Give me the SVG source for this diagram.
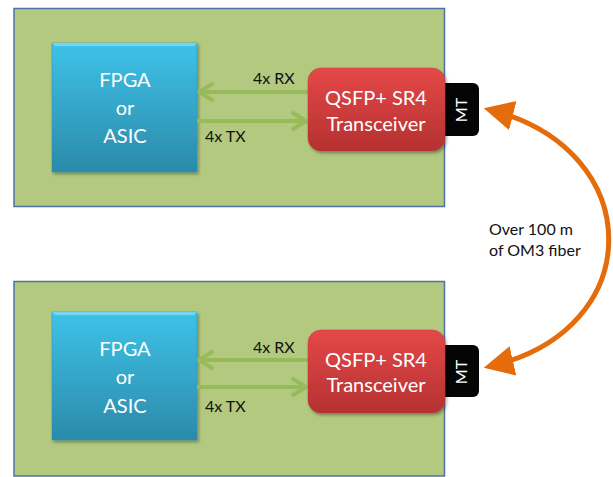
<svg xmlns="http://www.w3.org/2000/svg" width="613" height="477" viewBox="0 0 613 477">
<defs>
<style>
.board{fill:#b3c97f;stroke:#4f72a6;stroke-width:1.5}
.chip{fill:url(#blue);stroke:#2c8fb0;stroke-width:0.5}
.xcvr{fill:url(#red);stroke:#b83a3a;stroke-width:0.5}
.mt{fill:#050505}
.wt{font-family:Lato,"Open Sans",sans-serif;fill:#fff;text-anchor:middle}
.bt{font-family:Lato,"Open Sans",sans-serif;fill:#111;font-size:16px}
.lane{stroke:#97bb5a;stroke-width:4;fill:none}
.head{stroke:#97bb5a;stroke-width:4;fill:none;stroke-linecap:round;stroke-linejoin:round}
.fiber{stroke:#e46c0a;stroke-width:5;fill:none}
</style>
<linearGradient id="blue" x1="0" y1="0" x2="0" y2="1">
<stop offset="0" stop-color="#3ec2e8"/>
<stop offset="1" stop-color="#2b8aaa"/>
</linearGradient>
<linearGradient id="red" x1="0" y1="0" x2="0" y2="1">
<stop offset="0" stop-color="#e54848"/>
<stop offset="1" stop-color="#b53131"/>
</linearGradient>
<filter id="sh" x="-10%" y="-10%" width="130%" height="130%">
<feDropShadow dx="1.5" dy="2" stdDeviation="1.5" flood-color="#000" flood-opacity="0.35"/>
</filter>
<marker id="oh" markerWidth="6" markerHeight="6" refX="4.5" refY="3" orient="auto-start-reverse" markerUnits="strokeWidth" viewBox="0 0 6 6">
<path d="M0,0 L6,3 L0,6 Z" fill="#e46c0a"/>
</marker>
</defs>

<g id="board-top">
<rect class="board" x="14" y="8.5" width="430.5" height="198"/>
</g>
<g id="board-bottom">
<rect class="board" x="14" y="281.5" width="430.5" height="194.5"/>
</g>

<g id="fpga-top">
<rect class="chip" x="52" y="43" width="145" height="129" filter="url(#sh)"/>
<path d="M52,43 H197 L194,46 H55 Z" fill="#7fdcf5" opacity="0.8"/>
<text class="wt" font-size="20" x="125" y="87">FPGA</text>
<text class="wt" font-size="20" x="125" y="115">or</text>
<text class="wt" font-size="20" x="125" y="143">ASIC</text>
</g>
<g id="fpga-bottom">
<rect class="chip" x="52" y="312" width="145" height="128" filter="url(#sh)"/>
<path d="M52,312 H197 L194,315 H55 Z" fill="#7fdcf5" opacity="0.8"/>
<text class="wt" font-size="20" x="125" y="356">FPGA</text>
<text class="wt" font-size="20" x="125" y="384">or</text>
<text class="wt" font-size="20" x="125" y="413">ASIC</text>
</g>

<g id="connectors">
<line class="lane" x1="308" y1="92" x2="199" y2="92"/>
<polyline class="head" points="212,84 199,92 212,100"/>
<line class="lane" x1="197" y1="121" x2="306" y2="121"/>
<polyline class="head" points="293,113 306,121 293,129"/>
<line class="lane" x1="308" y1="360" x2="199" y2="360"/>
<polyline class="head" points="212,352 199,360 212,368"/>
<line class="lane" x1="197" y1="387" x2="306" y2="387"/>
<polyline class="head" points="293,379 306,387 293,395"/>
<path class="fiber" d="M491,110 C648,150 648,330 491,366" marker-start="url(#oh)" marker-end="url(#oh)"/>
</g>

<g id="labels">
<text class="bt" x="253" y="84">4x RX</text>
<text class="bt" x="205" y="142">4x TX</text>
<text class="bt" x="253" y="353">4x RX</text>
<text class="bt" x="205" y="412">4x TX</text>
<text class="bt" x="489" y="235">Over 100 m</text>
<text class="bt" x="489" y="256">of OM3 fiber</text>
</g>

<g id="mt-top">
<rect class="mt" x="438" y="83" width="41" height="53" rx="6"/>
<text class="wt" font-size="16" transform="translate(467,110) rotate(-90)">MT</text>
</g>
<g id="mt-bottom">
<rect class="mt" x="438" y="345" width="41" height="52" rx="6"/>
<text class="wt" font-size="16" transform="translate(467,372) rotate(-90)">MT</text>
</g>

<g id="xcvr-top">
<rect class="xcvr" x="308" y="68" width="137" height="83" rx="13" filter="url(#sh)"/>
<text class="wt" font-size="20" x="376" y="105">QSFP+ SR4</text>
<text class="wt" font-size="20" x="376" y="131">Transceiver</text>
</g>
<g id="xcvr-bottom">
<rect class="xcvr" x="308" y="330" width="137" height="83" rx="13" filter="url(#sh)"/>
<text class="wt" font-size="20" x="376" y="367">QSFP+ SR4</text>
<text class="wt" font-size="20" x="376" y="392">Transceiver</text>
</g>
</svg>
